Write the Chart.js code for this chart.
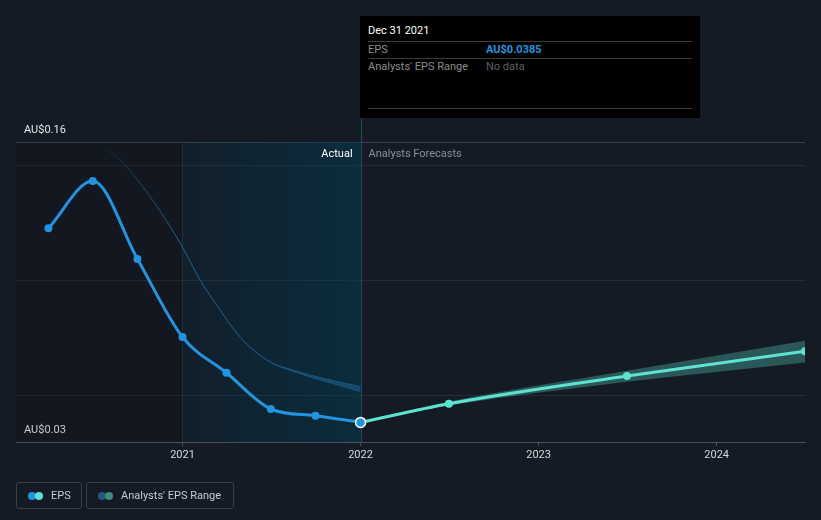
<!DOCTYPE html>
<html>
<head>
<meta charset="utf-8">
<script src="https://cdn.jsdelivr.net/npm/chart.js@4.4.0/dist/chart.umd.min.js"></script>
<style>
  html, body { margin:0; padding:0; background:#151b25; }
  body { width:821px; height:520px; position:relative; overflow:hidden; font-family:Roboto, "Open Sans", sans-serif; }
  #wrap { position:absolute; left:0; top:0; width:821px; height:520px; }
  #tip { position:absolute; left:360px; top:16px; width:340px; height:102px; background:#000; box-sizing:border-box; }
  #tip .title { position:absolute; left:8px; top:8px; font-size:11px; color:#fff; }
  #tip .hr { position:absolute; left:8px; right:8px; height:1px; background:#3c3c3c; }
  #tip .row { position:absolute; left:8px; font-size:11px; color:#8c8c8c; }
  #tip .val { position:absolute; left:126px; font-size:11px; }
  .leg { position:absolute; top:482px; height:27px; border:1px solid #393f49; border-radius:3px; box-sizing:border-box; color:#c7cbd1; font-size:11px; }
  .leg .dot { position:absolute; top:9px; width:8px; height:8px; border-radius:50%; }
  .leg .txt { position:absolute; top:6px; }
</style>
</head>
<body>
<div id="wrap"><canvas id="c" width="821" height="520"></canvas></div>
<div id="tip">
  <div class="title">Dec 31 2021</div>
  <div class="hr" style="top:25px"></div>
  <div class="row" style="top:27px">EPS</div>
  <div class="val" style="top:27px;color:#2394df;font-weight:bold">AU$0.0385</div>
  <div class="hr" style="top:42px"></div>
  <div class="row" style="top:44px">Analysts' EPS Range</div>
  <div class="val" style="top:44px;color:#5d6066">No data</div>
  <div class="hr" style="top:92px"></div>
</div>
<div class="leg" style="left:16px;width:66px">
  <div class="dot" style="left:11px;background:#2394df"></div>
  <div class="dot" style="left:18px;background:#5fe3d1"></div>
  <div class="txt" style="left:34px">EPS</div>
</div>
<div class="leg" style="left:86px;width:148px">
  <div class="dot" style="left:11px;background:#1f5a86"></div>
  <div class="dot" style="left:18px;background:#3f8a82"></div>
  <div class="txt" style="left:34px">Analysts' EPS Range</div>
</div>
<script>
// ---- data (decimal years, AU$ EPS) ----
const actualDates = [2020.247, 2020.496, 2020.747, 2021.0, 2021.247, 2021.496, 2021.747, 2022.0];
const actualEps   = [0.1226, 0.1431, 0.1093, 0.0755, 0.0600, 0.0443, 0.0414, 0.0385];
const forecastDates = [2022.0, 2022.496, 2023.496, 2024.496];
const forecastEps   = [0.0385, 0.0466, 0.0586, 0.0693];
const rangeHigh     = [0.0385, 0.0475, 0.0609, 0.0739];
const rangeLow      = [0.0385, 0.0458, 0.0561, 0.0645];
const pastEstDates  = [2020.566, 2020.650, 2020.819, 2020.987, 2021.099, 2021.211, 2021.323, 2021.475, 2021.660, 2021.845, 2022.0];
const pastEstHigh   = [0.1569, 0.1522, 0.1362, 0.1162, 0.1002, 0.0872, 0.0755, 0.0655, 0.0603, 0.0566, 0.0540];
const pastEstLow    = [0.1569, 0.1522, 0.1362, 0.1162, 0.1002, 0.0872, 0.0755, 0.0655, 0.0596, 0.0553, 0.0518];
const yearTicks = [2021, 2022, 2023, 2024];
const yTicks = [0.03, 0.05, 0.10, 0.15, 0.16];
const yLabelled = [0.03, 0.16];
const xMin = 2020.065, xMax = 2024.496;
const nowYear = 2022.0, lastYearStart = 2021.0;

const pts = (xs, ys) => xs.map((x, i) => ({x, y: ys[i]}));

const bgPlugin = {
  id: 'bg',
  beforeDatasetsDraw(chart) {
    const {ctx, chartArea: a, scales: {x}} = chart;
    const xNow = x.getPixelForValue(nowYear);
    const xLY = x.getPixelForValue(lastYearStart);
    ctx.save();
    ctx.fillStyle = 'rgba(0,0,0,0.13)';
    ctx.fillRect(a.left, a.top, xLY - a.left, a.bottom - a.top);
    const g = ctx.createLinearGradient(xLY, 0, xNow, 0);
    g.addColorStop(0, 'rgba(0,62,84,0.12)');
    g.addColorStop(1, 'rgba(0,62,84,0.52)');
    ctx.fillStyle = g;
    ctx.fillRect(xLY, a.top, xNow - xLY, a.bottom - a.top);
    ctx.lineWidth = 1;
    ctx.strokeStyle = '#173341';
    ctx.beginPath(); ctx.moveTo(Math.round(xLY) + 0.5, a.top); ctx.lineTo(Math.round(xLY) + 0.5, a.bottom); ctx.stroke();
    ctx.strokeStyle = '#1c4d60';
    ctx.beginPath(); ctx.moveTo(Math.round(xNow) + 0.5, 118); ctx.lineTo(Math.round(xNow) + 0.5, a.bottom); ctx.stroke();
    ctx.font = '11px Roboto, sans-serif';
    ctx.textBaseline = 'middle';
    ctx.textAlign = 'right';
    ctx.fillStyle = '#ffffff';
    ctx.fillText('Actual', xNow - 8, a.top + 12);
    ctx.textAlign = 'left';
    ctx.fillStyle = '#8a8f97';
    ctx.fillText('Analysts Forecasts', xNow + 8, a.top + 12);
    ctx.restore();
  }
};

const fadeStroke = (ctx) => {
  const ch = ctx.chart, a = ch.chartArea;
  if (!a) return '#17476a';
  const x = ch.scales.x;
  const g = ch.ctx.createLinearGradient(x.getPixelForValue(pastEstDates[0]), 0, x.getPixelForValue(2021.0), 0);
  g.addColorStop(0, 'rgba(23,71,106,0.15)');
  g.addColorStop(1, 'rgba(26,84,124,1)');
  return g;
};

const lastIdx = actualDates.length - 1;

new Chart(document.getElementById('c'), {
  type: 'line',
  data: {
    datasets: [
      { label: 'pastHigh', data: pts(pastEstDates, pastEstHigh), borderColor: fadeStroke, borderWidth: 1, pointRadius: 0, fill: '+1', backgroundColor: 'rgba(24,82,122,0.8)', cubicInterpolationMode: 'monotone', order: 5 },
      { label: 'pastLow', data: pts(pastEstDates, pastEstLow), borderColor: fadeStroke, borderWidth: 1, pointRadius: 0, fill: false, cubicInterpolationMode: 'monotone', order: 5 },
      { label: 'rangeHigh', data: pts(forecastDates, rangeHigh), borderWidth: 0, borderColor: 'transparent', pointRadius: 0, fill: '+1', backgroundColor: 'rgba(95,227,209,0.30)', cubicInterpolationMode: 'monotone', order: 4 },
      { label: 'rangeLow', data: pts(forecastDates, rangeLow), borderWidth: 0, borderColor: 'transparent', pointRadius: 0, fill: false, cubicInterpolationMode: 'monotone', order: 4 },
      { label: 'EPS forecast', data: pts(forecastDates, forecastEps), borderColor: '#5fe3d1', borderWidth: 3, backgroundColor: '#5fe3d1',
        pointRadius: forecastDates.map((d, i) => i === 0 ? 0 : 4), pointBorderWidth: 0, cubicInterpolationMode: 'monotone', fill: false, order: 2 },
      { label: 'EPS', data: pts(actualDates, actualEps), borderColor: '#2394df', borderWidth: 3, backgroundColor: '#2394df',
        pointRadius: actualDates.map((d, i) => i === lastIdx ? 5 : 4),
        pointBorderWidth: actualDates.map((d, i) => i === lastIdx ? 1.5 : 0),
        pointBorderColor: actualDates.map((d, i) => i === lastIdx ? '#ffffff' : '#2394df'),
        cubicInterpolationMode: 'monotone', fill: false, order: 1 }
    ]
  },
  options: {
    responsive: false,
    animation: false,
    events: [],
    layout: { padding: { left: 16, right: 16, top: 142, bottom: 0 } },
    plugins: { legend: { display: false }, tooltip: { enabled: false } },
    scales: {
      x: {
        type: 'linear', min: xMin, max: xMax,
        afterFit: s => { s.height = 78; },
        afterBuildTicks: s => { s.ticks = yearTicks.map(v => ({value: v})); },
        ticks: { callback: v => String(v), color: '#d5d8dd', font: { family: 'Roboto, sans-serif', size: 11 }, padding: 3, maxRotation: 0, autoSkip: false },
        grid: { drawOnChartArea: false, drawTicks: true, tickLength: 4, color: '#4a4f58' },
        border: { display: true, color: '#4a4f58', width: 1 }
      },
      y: {
        type: 'linear', min: 0.03, max: 0.16,
        afterFit: s => { s.width = 0; },
        afterBuildTicks: s => { s.ticks = yTicks.map(v => ({value: v})); },
        ticks: { mirror: true, padding: 8, labelOffset: -12, color: '#e4e6ea', font: { family: 'Roboto, sans-serif', size: 11 },
          callback: v => yLabelled.some(t => Math.abs(t - v) < 1e-9) ? 'AU$' + v.toFixed(2) : '' },
        grid: { drawTicks: false, color: c => (c.tick && Math.abs(c.tick.value - 0.16) < 1e-9) ? '#3b414a' : (c.tick && Math.abs(c.tick.value - 0.03) < 1e-9 ? 'rgba(0,0,0,0)' : '#262c36') },
        border: { display: false }
      }
    }
  },
  plugins: [bgPlugin]
});
</script>
</body>
</html>
